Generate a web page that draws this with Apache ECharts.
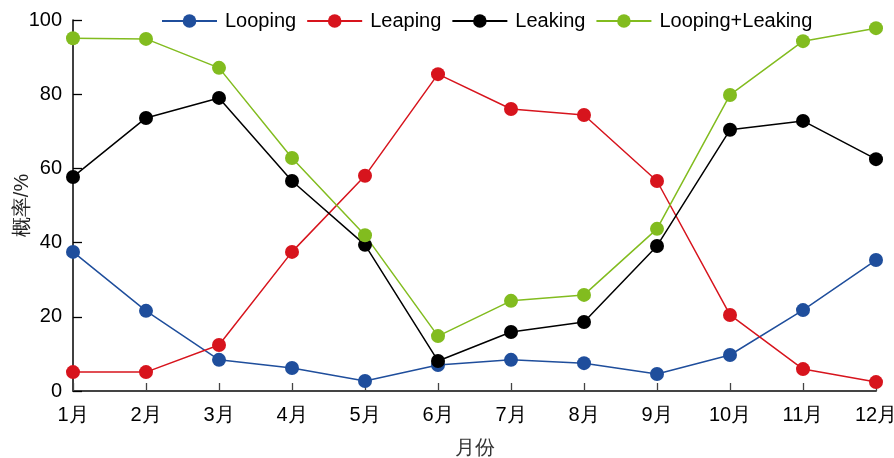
<!DOCTYPE html>
<html>
<head>
<meta charset="utf-8">
<script src="https://cdn.jsdelivr.net/npm/echarts@6/dist/echarts.min.js"></script>
<style>
  html, body { margin: 0; padding: 0; background: #fff; }
  #chart { width: 894px; height: 458px; }
</style>
</head>
<body>
<div id="chart"></div>
<script>
// Monthly probabilities (%) of each pattern
const months = ['1月','2月','3月','4月','5月','6月','7月','8月','9月','10月','11月','12月'];
const looping = [37.5, 21.6, 8.4, 6.2, 2.7, 7.0, 8.4, 7.5, 4.6, 9.7, 21.8, 35.3];
const leaping = [5.1, 5.1, 12.4, 37.5, 58.0, 85.4, 76.0, 74.4, 56.6, 20.5, 5.9, 2.4];
const leaking = [57.7, 73.6, 79.0, 56.6, 39.4, 8.1, 15.9, 18.6, 39.1, 70.4, 72.8, 62.5];
const loopingLeaking = [95.1, 94.9, 87.1, 62.8, 42.0, 14.8, 24.3, 25.9, 43.7, 79.8, 94.3, 97.8];

const seriesDefs = [
  { name: 'Looping', data: looping, color: '#1f4e9c' },
  { name: 'Leaping', data: leaping, color: '#d7141d' },
  { name: 'Leaking', data: leaking, color: '#000000' },
  { name: 'Looping+Leaking', data: loopingLeaking, color: '#82bc1f' }
];

const font = 'Liberation Sans, Arial, sans-serif';
const chart = echarts.init(document.getElementById('chart'));
chart.setOption({
  animation: false,
  textStyle: { fontFamily: font },
  legend: {
    top: 6,
    left: 156,
    itemWidth: 55,
    itemHeight: 17,
    itemGap: 10,
    textStyle: { fontSize: 20, color: '#000', fontFamily: font, padding: [0, 0, 0, 3] },
    data: seriesDefs.map(s => s.name)
  },
  grid: { left: 73, right: 18, top: 20, bottom: 67, containLabel: false, outerBoundsMode: 'none' },
  xAxis: {
    type: 'category',
    data: months,
    boundaryGap: false,
    name: '月份',
    nameLocation: 'middle',
    nameGap: 47,
    nameMoveOverlap: false,
    nameTextStyle: { fontSize: 20, color: '#333', fontFamily: font },
    axisLine: { lineStyle: { color: '#444', width: 2 } },
    axisTick: { inside: true, length: 8, lineStyle: { color: '#444', width: 1.3 } },
    axisLabel: { fontSize: 20, color: '#000', margin: 14, fontFamily: font }
  },
  yAxis: {
    type: 'value',
    min: 0,
    max: 100,
    interval: 20,
    name: '概率/%',
    nameLocation: 'middle',
    nameGap: 41,
    nameMoveOverlap: false,
    nameTextStyle: { fontSize: 20, color: '#222', fontFamily: font },
    axisLine: { show: true, lineStyle: { color: '#000', width: 1.5 } },
    axisTick: { show: true, inside: true, length: 9, lineStyle: { color: '#000', width: 1.3 } },
    axisLabel: { fontSize: 20, color: '#000', margin: 11, fontFamily: font },
    splitLine: { show: false }
  },
  series: seriesDefs.map(s => ({
    name: s.name,
    type: 'line',
    data: s.data,
    symbol: 'circle',
    symbolSize: 14,
    itemStyle: { color: s.color },
    lineStyle: { color: s.color, width: 1.5 }
  }))
});
</script>
</body>
</html>
